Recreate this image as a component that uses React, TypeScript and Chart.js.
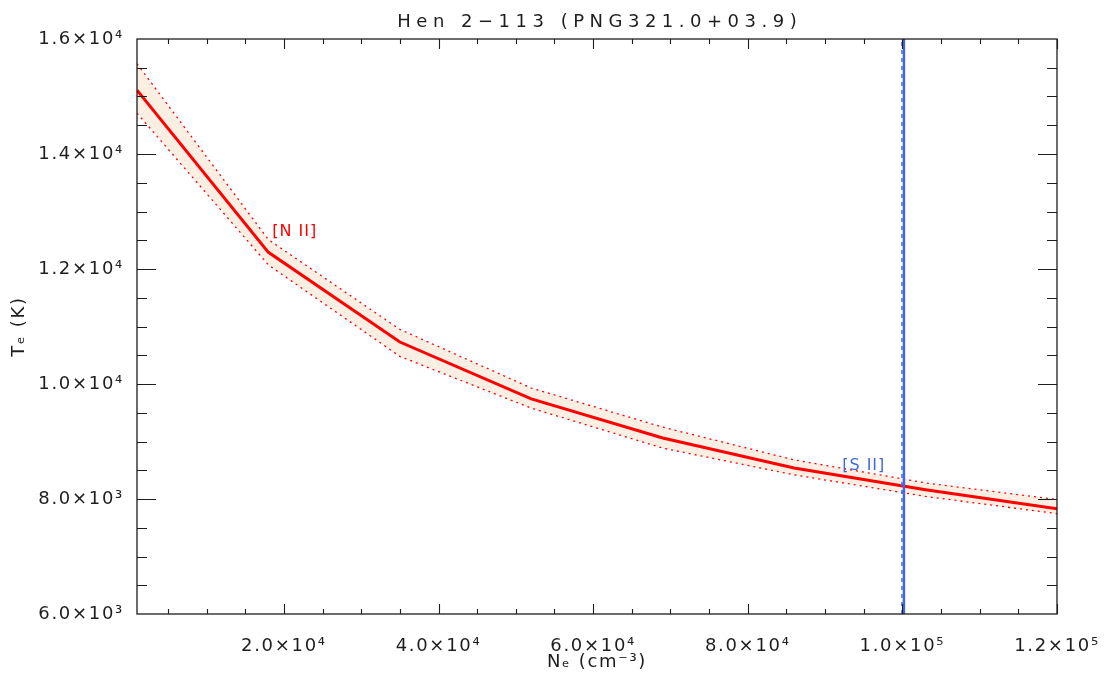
import React, { useEffect, useRef } from "react";
import { Chart, registerables } from "chart.js";

Chart.register(...registerables);

// ---------- data ----------
const chartTitle = "Hen 2\u2212113 (PNG321.0+03.9)";
const xAxisTitle = "N\u2091 (cm\u207B\u00B3)";
const yAxisTitle = "T\u2091 (K)";

const neValues = [1000, 18000, 35000, 52000, 69000, 86000, 103000, 120000];
const teCentral = [15110, 12290, 10730, 9740, 9060, 8540, 8160, 7830];
const teUpper = [15570, 12510, 10950, 9930, 9250, 8680, 8280, 7990];
const teLower = [14710, 12070, 10480, 9580, 8885, 8420, 8045, 7745];

const siiDensity = 100200;
const siiDensityLow = 99950;

const xMin = 1000;
const xMax = 120000;
const yMin = 6000;
const yMax = 16000;

const xMajorTicks = [20000, 40000, 60000, 80000, 100000, 120000];
const xTickLabels = ["2.0\u00D710\u2074", "4.0\u00D710\u2074", "6.0\u00D710\u2074", "8.0\u00D710\u2074", "1.0\u00D710\u2075", "1.2\u00D710\u2075"];
const yMajorTicks = [6000, 8000, 10000, 12000, 14000, 16000];
const yTickLabels = ["6.0\u00D710\u00B3", "8.0\u00D710\u00B3", "1.0\u00D710\u2074", "1.2\u00D710\u2074", "1.4\u00D710\u2074", "1.6\u00D710\u2074"];
const xMinorStep = 5000;
const yMinorStep = 500;

const lineLabelTexts = ["[N II]", "[S II]"];
const lineLabelX = [21400, 95000];
const lineLabelY = [12650, 8580];
const lineLabelColors = ["#ff0000", "#4169e1"];

// ---------- styling ----------
const FONT = "'DejaVu Sans', 'Liberation Sans', sans-serif";
const INK = "#1e1e1e";
const RED = "#ff0000";
const BLUE = "#4169e1";
const BAND = "#fbeee3";

const toPoints = (xs: number[], ys: number[]) => xs.map((x, i) => ({ x, y: ys[i] }));

const decorPlugin = {
  id: "decor",
  afterInit(chart: any) {
    chart.ctx.letterSpacing = "1.7px";
  },
  afterDatasetsDraw(chart: any) {
    const { ctx, scales } = chart;
    ctx.save();
    ctx.letterSpacing = "1px";
    ctx.font = `16px ${FONT}`;
    ctx.textAlign = "center";
    ctx.textBaseline = "middle";
    lineLabelTexts.forEach((t, i) => {
      ctx.fillStyle = lineLabelColors[i];
      ctx.fillText(t, scales.x.getPixelForValue(lineLabelX[i]), scales.y.getPixelForValue(lineLabelY[i]));
    });
    ctx.restore();
  },
  afterDraw(chart: any) {
    const { ctx, chartArea: a, scales } = chart;
    const xs = scales.x;
    const ys = scales.y;
    ctx.save();
    ctx.strokeStyle = INK;
    ctx.lineWidth = 1.3;
    ctx.strokeRect(a.left, a.top, a.right - a.left, a.bottom - a.top);
    ctx.lineWidth = 1.1;
    ctx.beginPath();
    for (let v = xMinorStep; v <= xMax; v += xMinorStep) {
      if (v <= xMin) continue;
      const px = Math.round(xs.getPixelForValue(v)) + 0.5;
      const len = xMajorTicks.includes(v) ? 10 : 5;
      ctx.moveTo(px, a.bottom);
      ctx.lineTo(px, a.bottom - len);
      ctx.moveTo(px, a.top);
      ctx.lineTo(px, a.top + len);
    }
    for (let v = yMin + yMinorStep; v < yMax; v += yMinorStep) {
      const py = Math.round(ys.getPixelForValue(v)) + 0.5;
      const len = yMajorTicks.includes(v) ? 19 : 10;
      ctx.moveTo(a.left, py);
      ctx.lineTo(a.left + len, py);
      ctx.moveTo(a.right, py);
      ctx.lineTo(a.right - len, py);
    }
    ctx.stroke();

    // title
    const spacing = 5.5;
    ctx.letterSpacing = `${spacing}px`;
    ctx.font = `18px ${FONT}`;
    ctx.fillStyle = INK;
    ctx.textAlign = "center";
    ctx.textBaseline = "alphabetic";
    ctx.fillText(chartTitle, (a.left + a.right) / 2 + spacing / 2, 27);
    ctx.restore();
  },
};

export default function App() {
  const ref = useRef<HTMLCanvasElement>(null);

  useEffect(() => {
    const canvas = ref.current;
    if (!canvas) return;
    Chart.defaults.font.family = FONT;
    const chart = new Chart(canvas, {
      type: "line",
      data: {
        datasets: [
          {
            label: "[S II]",
            data: [{ x: siiDensity, y: yMin }, { x: siiDensity, y: yMax }],
            borderColor: BLUE,
            borderWidth: 2.5,
            pointRadius: 0,
            fill: false,
          },
          {
            label: "[S II] lower",
            data: [{ x: siiDensityLow, y: yMin }, { x: siiDensityLow, y: yMax }],
            borderColor: BLUE,
            borderWidth: 1.5,
            borderDash: [4, 4],
            pointRadius: 0,
            fill: false,
          },
          {
            label: "[N II]",
            data: toPoints(neValues, teCentral),
            borderColor: RED,
            borderWidth: 3,
            pointRadius: 0,
            fill: false,
          },
          {
            label: "[N II] upper",
            data: toPoints(neValues, teUpper),
            borderColor: RED,
            borderWidth: 1.3,
            borderDash: [2, 4],
            pointRadius: 0,
            fill: "+1",
            backgroundColor: BAND,
          },
          {
            label: "[N II] lower",
            data: toPoints(neValues, teLower),
            borderColor: RED,
            borderWidth: 1.3,
            borderDash: [2, 4],
            pointRadius: 0,
            fill: false,
          },
        ],
      },
      options: {
        animation: false,
        responsive: false,
        devicePixelRatio: 1,
        layout: { padding: { top: 39, right: 51, left: 0, bottom: 0 } },
        elements: { line: { tension: 0 } },
        plugins: {
          legend: { display: false },
          tooltip: { enabled: false },
          title: { display: false },
          filler: { drawTime: "beforeDatasetsDraw" },
        },
        scales: {
          x: {
            type: "linear",
            position: "bottom",
            min: xMin,
            max: xMax,
            grid: { display: false },
            border: { display: false },
            afterBuildTicks: (s: any) => {
              s.ticks = xMajorTicks.map((value) => ({ value }));
            },
            afterFit: (s: any) => {
              s.height = 74;
              s.paddingLeft = 0;
              s.paddingRight = 0;
            },
            ticks: {
              autoSkip: false,
              maxRotation: 0,
              padding: 14,
              color: INK,
              font: { size: 18, family: FONT },
              callback: (v: any) => xTickLabels[xMajorTicks.indexOf(Number(v))] ?? "",
            },
            title: {
              display: true,
              text: xAxisTitle,
              color: INK,
              font: { size: 18, family: FONT },
              padding: { top: 0, bottom: 15 },
            },
          },
          y: {
            type: "linear",
            position: "left",
            min: yMin,
            max: yMax,
            grid: { display: false },
            border: { display: false },
            afterBuildTicks: (s: any) => {
              s.ticks = yMajorTicks.map((value) => ({ value }));
            },
            afterFit: (s: any) => {
              s.width = 137;
              s.paddingTop = 0;
              s.paddingBottom = 0;
            },
            ticks: {
              autoSkip: false,
              padding: 5,
              color: INK,
              font: { size: 18, family: FONT },
              callback: (v: any) => yTickLabels[yMajorTicks.indexOf(Number(v))] ?? "",
            },
            title: {
              display: true,
              text: yAxisTitle,
              color: INK,
              font: { size: 18, family: FONT },
              padding: { top: 9, bottom: 0 },
            },
          },
        },
      },
      plugins: [decorPlugin],
    } as any);
    return () => chart.destroy();
  }, []);

  return (
    <div style={{ position: "fixed", left: 0, top: 0, width: 1108, height: 688, background: "#ffffff" }}>
      <canvas ref={ref} width={1108} height={688} style={{ display: "block", width: 1108, height: 688 }} />
    </div>
  );
}
